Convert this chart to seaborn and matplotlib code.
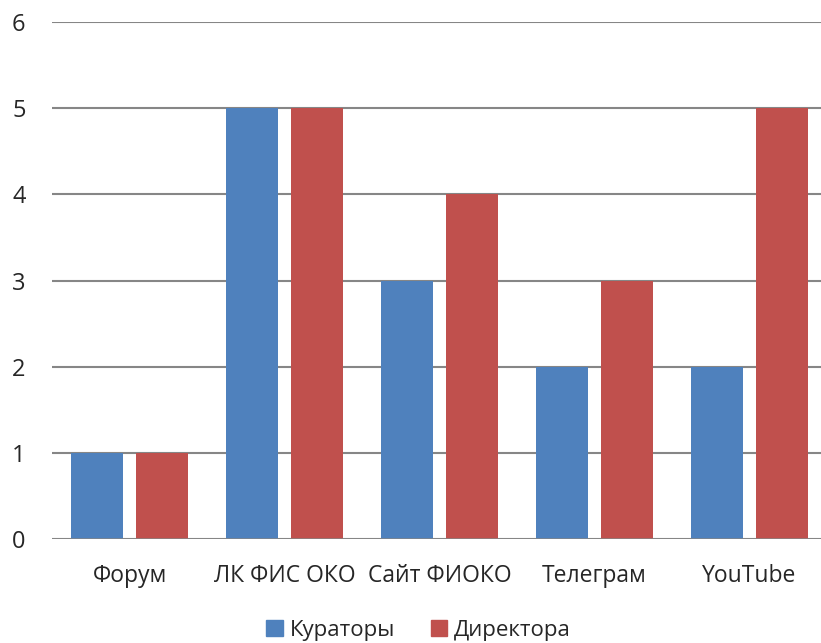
import numpy as np
import pandas as pd
import matplotlib
matplotlib.use("Agg")
import matplotlib.pyplot as plt
import seaborn as sns

# Data
categories = ["Форум", "ЛК ФИС ОКО", "Сайт ФИОКО", "Телеграм", "YouTube"]
curators = [1, 5, 3, 2, 2]
directors = [1, 5, 4, 3, 5]
series_names = ["Кураторы", "Директора"]
y_ticks = [0, 1, 2, 3, 4, 5, 6]

df = pd.DataFrame({
    "Канал": categories * 2,
    "Значение": curators + directors,
    "Группа": [series_names[0]] * len(categories) + [series_names[1]] * len(categories),
})

sns.set_style("white")
plt.rcParams['font.family'] = ['Open Sans', 'DejaVu Sans']

fig = plt.figure(figsize=(8.21, 6.43), dpi=100)
ax = fig.add_axes([52 / 821, 104 / 643, 1 - 52 / 821, 517 / 643])

palette = {"Кураторы": "#4F81BD", "Директора": "#C0504D"}
sns.barplot(data=df, x="Канал", y="Значение", hue="Группа", palette=palette,
            width=0.839, gap=0.215, saturation=1, linewidth=0, legend=False,
            ax=ax, zorder=3)

ax.set_ylim(0, 6)
ax.set_xlim(-0.5, 4.5 - 6 / 155)
ax.set_yticks(y_ticks)
ax.yaxis.grid(True, color="#868686", linewidth=1.5, zorder=0)
ax.set_axisbelow(True)
for s in ax.spines.values():
    s.set_visible(False)
ax.axhline(0, color="#868686", linewidth=1.8, zorder=4)
ax.tick_params(axis="y", length=0, pad=19, labelsize=17)
ax.tick_params(axis="x", length=0, pad=18, labelsize=16.5)
ax.set_xlabel("")
ax.set_ylabel("")

handles = [plt.Rectangle((0, 0), 1, 1, color=palette[n]) for n in series_names]
fig.legend(handles, series_names, loc="center", bbox_to_anchor=(0.51, 0.02),
           ncol=2, frameon=False, fontsize=16, handlelength=0.75, handleheight=0.75,
           handletextpad=0.3, columnspacing=1.6)

fig.savefig("out.png", dpi=100)
